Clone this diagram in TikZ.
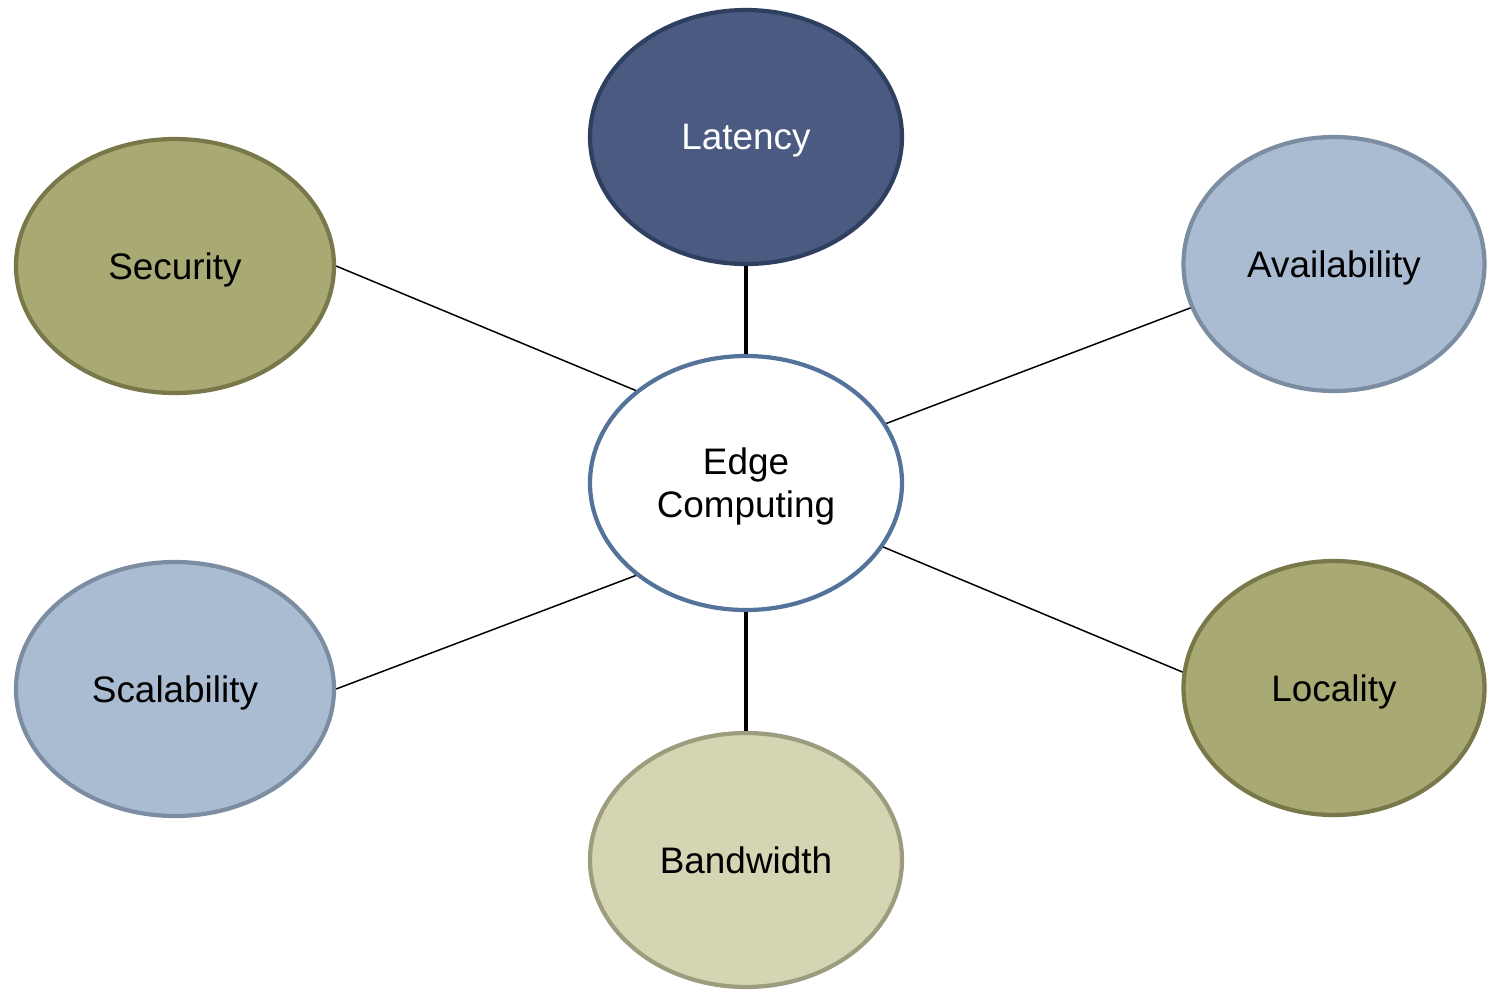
\documentclass[tikz,border=0pt]{standalone}
\usepackage{fontspec}
\setmainfont{Liberation Sans}
\usetikzlibrary{shapes.geometric}

\definecolor{latfill}{HTML}{4A5A80}
\definecolor{latdraw}{HTML}{2F3F5F}
\definecolor{olivefill}{HTML}{A9A973}
\definecolor{olivedraw}{HTML}{78784A}
\definecolor{bluefill}{HTML}{AABCD1}
\definecolor{bluedraw}{HTML}{7D8DA1}
\definecolor{edgedraw}{HTML}{53739A}
\definecolor{bandfill}{HTML}{D5D5B4}
\definecolor{banddraw}{HTML}{9C9C7E}

\begin{document}
\begin{tikzpicture}[
    bubble/.style={ellipse, line width=2.4pt, inner sep=0pt,
        minimum width=6.24cm, minimum height=5.08cm, text depth=0pt,
        font=\fontsize{21}{24.5}\selectfont, align=center},
    thin link/.style={line width=0.85pt},
    thick link/.style={line width=2.2pt}]

    \useasboundingbox (0,0) rectangle (29.76,-19.82);

    \node[bubble, fill=latfill, draw=latdraw, text=white] (lat) at (14.92,-2.74) {Latency};
    \node[bubble, fill=olivefill, draw=olivedraw, minimum width=6.36cm] (sec) at (3.5,-5.32) {Security};
    \node[bubble, fill=bluefill, draw=bluedraw, minimum width=6.02cm] (avail) at (26.68,-5.28) {Availability};
    \node[bubble, fill=white, draw=edgedraw] (edge) at (14.92,-9.66) {Edge\\Computing};
    \node[bubble, fill=bluefill, draw=bluedraw, minimum width=6.36cm] (scal) at (3.5,-13.78) {Scalability};
    \node[bubble, fill=olivefill, draw=olivedraw, minimum width=6.02cm] (loc) at (26.68,-13.76) {Locality};
    \node[bubble, fill=bandfill, draw=banddraw] (band) at (14.92,-17.2) {Bandwidth};

    \draw[thick link] (lat) -- (edge);
    \draw[thick link] (band) -- (edge);
    \draw[thin link] (sec.east) -- (edge.140);
    \draw[thin link] (avail.197) -- (edge.23);
    \draw[thin link] (scal.east) -- (edge.220);
    \draw[thin link] (loc.174) -- (edge.335);

\end{tikzpicture}
\end{document}
